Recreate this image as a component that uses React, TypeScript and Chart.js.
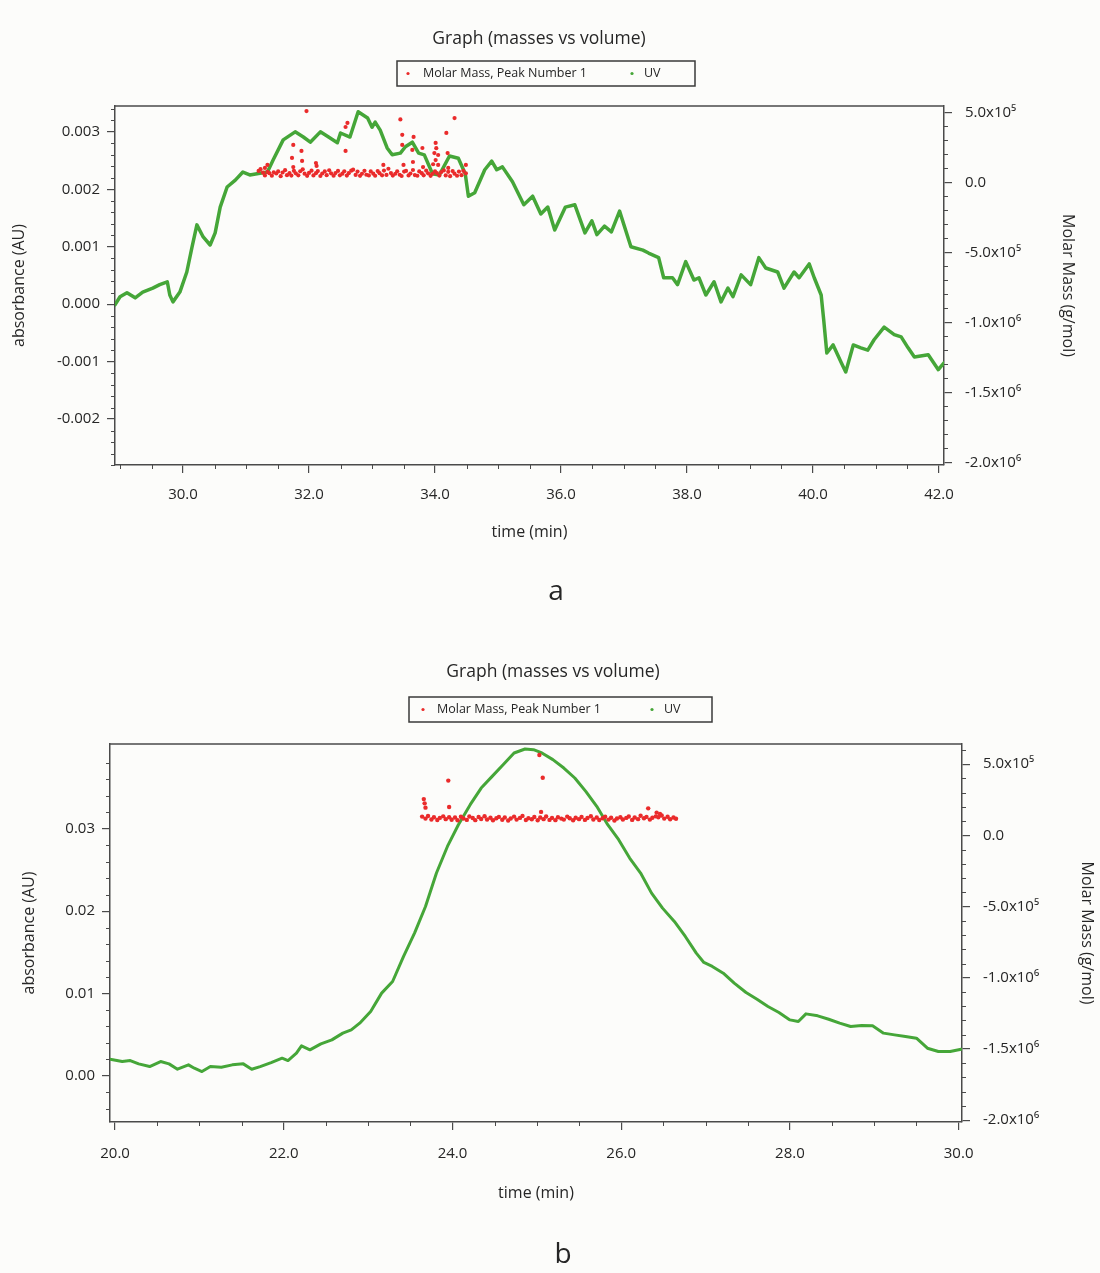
import React, { useEffect, useRef } from 'react';
import { Chart, registerables } from 'chart.js';

Chart.register(...registerables);

const FONT = '"Open Sans", "Noto Sans", sans-serif';
const TEXT = '#262626';
const AXIS = '#4a4a4a';
const GREEN = '#45a638';
const RED = '#ea2b2b';

// ---------- Chart a data ----------
const uvTimeA = [
  28.92, 29.0, 29.11, 29.24, 29.36, 29.52, 29.63, 29.75, 29.79, 29.84,
  29.95, 30.06, 30.14, 30.22, 30.32, 30.43, 30.51, 30.59, 30.7, 30.83,
  30.95, 31.06, 31.22, 31.34, 31.43, 31.59, 31.78, 31.91, 32.02, 32.18,
  32.31, 32.45, 32.5, 32.65, 32.78, 32.93, 33.0, 33.05, 33.13, 33.24,
  33.32, 33.45, 33.53, 33.64, 33.74, 33.83, 33.96, 34.07, 34.23, 34.37,
  34.48, 34.53, 34.63, 34.79, 34.9, 34.98, 35.07, 35.23, 35.41, 35.55,
  35.68, 35.79, 35.9, 36.07, 36.22, 36.38, 36.49, 36.57, 36.69, 36.8,
  36.93, 37.11, 37.3, 37.39, 37.55, 37.63, 37.77, 37.85, 37.98, 38.11,
  38.19, 38.3, 38.43, 38.54, 38.65, 38.73, 38.86, 39.01, 39.14, 39.25,
  39.44, 39.54, 39.7, 39.78, 39.94, 40.02, 40.13, 40.17, 40.22, 40.32,
  40.45, 40.52, 40.64, 40.76, 40.87, 40.97, 41.13, 41.29, 41.4, 41.51,
  41.61, 41.83, 41.99, 42.08,
];
const uvValueA = [
  -0.00001, 0.00013, 0.0002, 0.00011, 0.00021, 0.00028, 0.00034, 0.00039, 0.00016, 0.00004,
  0.00021, 0.00056, 0.00098, 0.00138, 0.00117, 0.00103, 0.00124, 0.00169, 0.00204, 0.00216,
  0.0023, 0.00225, 0.00228, 0.0023, 0.00251, 0.00286, 0.003, 0.00291, 0.00282, 0.003,
  0.00291, 0.00281, 0.00298, 0.00291, 0.00335, 0.00324, 0.00308, 0.00317, 0.00303, 0.00272,
  0.0026, 0.00263, 0.00274, 0.00282, 0.00263, 0.0026, 0.00227, 0.00225, 0.00258, 0.00254,
  0.00227, 0.00188, 0.00194, 0.00234, 0.00249, 0.00234, 0.00239, 0.00213, 0.00173, 0.00188,
  0.00157, 0.00169, 0.00129, 0.00169, 0.00173, 0.00124, 0.00145, 0.00121, 0.00136, 0.00126,
  0.00162, 0.001, 0.00094, 0.00089, 0.00081, 0.00046, 0.00046, 0.00034, 0.00074, 0.00042,
  0.00046, 0.00016, 0.00039, 0.00004, 0.00028, 0.00013, 0.00051, 0.00034, 0.00081, 0.00063,
  0.00056, 0.00028, 0.00056, 0.00046, 0.0007, 0.00046, 0.00016, -0.00027, -0.00085, -0.00071,
  -0.00102, -0.00118, -0.00071, -0.00076, -0.0008, -0.00062, -0.0004, -0.00053, -0.00057, -0.00076,
  -0.00092, -0.00088, -0.00114, -0.00102,
];
const massTimeA = [
  31.2, 31.23, 31.27, 31.3, 31.34, 31.37, 31.41, 31.44, 31.48, 31.51,
  31.55, 31.58, 31.62, 31.65, 31.69, 31.72, 31.76, 31.79, 31.83, 31.86,
  31.9, 31.93, 31.97, 32.0, 32.04, 32.07, 32.11, 32.14, 32.18, 32.21,
  32.25, 32.28, 32.32, 32.35, 32.39, 32.42, 32.46, 32.49, 32.53, 32.56,
  32.6, 32.63, 32.67, 32.7, 32.74, 32.77, 32.81, 32.84, 32.88, 32.91,
  32.95, 32.98, 33.02, 33.05, 33.09, 33.12, 33.16, 33.19, 33.23, 33.26,
  33.3, 33.33, 33.37, 33.4, 33.44, 33.47, 33.51, 33.54, 33.58, 33.61,
  33.65, 33.68, 33.72, 33.75, 33.79, 33.82, 33.86, 33.89, 33.93, 33.96,
  34.0, 34.03, 34.07, 34.1, 34.14, 34.17, 34.21, 34.24, 34.28, 34.31,
  34.35, 34.38, 34.42, 34.45, 34.49,
];
const massValueA = [
  82000, 95000, 70000, 50000, 75000, 66000, 48000, 72000, 64000, 79000,
  45000, 71000, 88000, 52000, 67000, 49000, 83000, 65000, 51000, 80000,
  94000, 63000, 47000, 68000, 84000, 50000, 66000, 81000, 46000, 64000,
  79000, 52000, 87000, 65000, 48000, 67000, 82000, 51000, 63000, 80000,
  49000, 66000, 84000, 91000, 54000, 78000, 47000, 62000, 83000, 55000,
  50000, 79000, 63000, 48000, 81000, 66000, 51000, 85000, 54000, 98000,
  67000, 49000, 62000, 80000, 55000, 46000, 78000, 82000, 50000, 64000,
  89000, 53000, 48000, 79000, 66000, 51000, 84000, 65000, 47000, 62000,
  80000, 67000, 49000, 74000, 86000, 50000, 76000, 45000, 81000, 63000,
  48000, 78000, 52000, 83000, 65000,
];
const massOutlierTimeA = [
  31.96, 32.61, 32.58, 33.45, 34.31, 34.18, 33.48, 33.66, 31.75, 31.88,
  31.73, 31.89, 31.75, 32.11, 32.12, 32.58, 33.48, 33.5, 33.64, 33.65,
  33.8, 33.81, 34.01, 33.99, 34.05, 34.01, 34.2, 34.05, 34.21, 34.49,
  33.18, 31.34, 31.3, 34.02, 33.97,
];
const massOutlierValueA = [
  510000, 425000, 396000, 450000, 460000, 354000, 340000, 325000, 268000, 225000,
  175000, 154000, 110000, 139000, 118000, 225000, 268000, 125000, 232000, 146000,
  246000, 110000, 282000, 210000, 196000, 160000, 210000, 125000, 104000, 125000,
  125000, 125000, 104000, 245000, 130000,
];
const xTicksA = [30, 32, 34, 36, 38, 40, 42];
const yTicksA = [-0.002, -0.001, 0, 0.001, 0.002, 0.003];
const massTicksA = [-2000000, -1500000, -1000000, -500000, 0, 500000];

// ---------- Chart b data ----------
const uvTimeB = [
  19.94, 20.085, 20.18, 20.28, 20.41, 20.54, 20.64, 20.74, 20.87, 20.94,
  21.03, 21.13, 21.26, 21.39, 21.52, 21.62, 21.72, 21.85, 21.98, 22.05,
  22.15, 22.21, 22.31, 22.44, 22.57, 22.7, 22.8, 22.9, 23.03, 23.16,
  23.29, 23.42, 23.55, 23.68, 23.81, 23.94, 24.07, 24.21, 24.34, 24.47,
  24.6, 24.73, 24.86, 24.96, 25.06, 25.19, 25.32, 25.45, 25.58, 25.71,
  25.84, 25.97, 26.1, 26.23, 26.36, 26.49, 26.63, 26.76, 26.89, 26.98,
  27.08, 27.21, 27.34, 27.48, 27.61, 27.74, 27.87, 28.0, 28.1, 28.19,
  28.33, 28.46, 28.59, 28.72, 28.85, 28.98, 29.11, 29.24, 29.37, 29.5,
  29.63, 29.76, 29.9, 30.03,
];
const uvValueB = [
  0.00203, 0.00174, 0.00186, 0.00146, 0.00113, 0.00174, 0.00146, 0.00081, 0.00134, 0.00093,
  0.00053, 0.00113, 0.00105, 0.00134, 0.00146, 0.00081, 0.00113, 0.00162, 0.00215, 0.00186,
  0.00276, 0.00365, 0.00316, 0.00389, 0.00437, 0.00519, 0.00559, 0.0064, 0.00782, 0.01005,
  0.01146, 0.0145, 0.01734, 0.02057, 0.02463, 0.02786, 0.0305, 0.03293, 0.03495, 0.03637,
  0.03779, 0.03921, 0.03969, 0.03961, 0.03921, 0.0384, 0.03738, 0.03617, 0.03455, 0.03273,
  0.0305, 0.02868, 0.02645, 0.02463, 0.02219, 0.02037, 0.01875, 0.01693, 0.0149, 0.01377,
  0.01329, 0.01247, 0.01126, 0.01013, 0.00931, 0.00843, 0.0077, 0.0068, 0.0066, 0.00753,
  0.00729, 0.00688, 0.0064, 0.006, 0.00612, 0.00608, 0.00519, 0.00498, 0.00478, 0.00458,
  0.00336, 0.00296, 0.00296, 0.00324,
];
const massTimeB = [
  23.64, 23.68, 23.71, 23.75, 23.78, 23.82, 23.85, 23.89, 23.92, 23.96,
  23.99, 24.03, 24.06, 24.1, 24.13, 24.17, 24.2, 24.24, 24.27, 24.31,
  24.34, 24.38, 24.41, 24.45, 24.48, 24.52, 24.55, 24.59, 24.62, 24.66,
  24.69, 24.73, 24.76, 24.8, 24.83, 24.87, 24.9, 24.94, 24.97, 25.01,
  25.04, 25.08, 25.11, 25.15, 25.18, 25.22, 25.25, 25.29, 25.32, 25.36,
  25.39, 25.43, 25.46, 25.5, 25.53, 25.57, 25.6, 25.64, 25.67, 25.71,
  25.74, 25.78, 25.81, 25.85, 25.88, 25.92, 25.95, 25.99, 26.02, 26.06,
  26.09, 26.13, 26.16, 26.2, 26.23, 26.27, 26.3, 26.34, 26.37, 26.41,
  26.44, 26.48, 26.51, 26.55, 26.58, 26.62, 26.65,
];
const massValueB = [
  132000, 118000, 136000, 112000, 127000, 108000, 123000, 134000, 114000, 128000,
  110000, 126000, 106000, 131000, 119000, 109000, 133000, 122000, 107000, 129000,
  115000, 135000, 112000, 124000, 106000, 121000, 130000, 110000, 126000, 105000,
  119000, 132000, 111000, 123000, 137000, 108000, 121000, 113000, 129000, 106000,
  126000, 114000, 133000, 109000, 123000, 107000, 128000, 118000, 111000, 132000,
  121000, 106000, 124000, 114000, 130000, 109000, 122000, 135000, 112000, 126000,
  108000, 121000, 131000, 111000, 124000, 105000, 119000, 128000, 112000, 123000,
  133000, 109000, 126000, 114000, 138000, 120000, 130000, 111000, 124000, 134000,
  127000, 140000, 118000, 131000, 113000, 126000, 117000,
];
const massOutlierTimeB = [23.66, 23.67, 23.68, 23.95, 23.96, 25.03, 25.07, 25.05, 26.32, 26.42, 26.46];
const massOutlierValueB = [255000, 225000, 195000, 385000, 200000, 565000, 405000, 165000, 190000, 160000, 150000];
const xTicksB = [20, 22, 24, 26, 28, 30];
const yTicksB = [0, 0.01, 0.02, 0.03];
const massTicksB = [-2000000, -1500000, -1000000, -500000, 0, 500000];

const TITLE = 'Graph (masses vs volume)';
const MASS_LABEL = 'Molar Mass, Peak Number 1';
const UV_LABEL = 'UV';

// ---------- helpers ----------
const SUP = '⁰¹²³⁴⁵⁶⁷⁸⁹';
const sup = (n: number) => String(n).split('').map((c) => SUP[+c]).join('');
function massLabel(v: number) {
  if (Math.abs(v) < 1) return '0.0';
  const e = Math.floor(Math.log10(Math.abs(v)) + 1e-9);
  const m = v / Math.pow(10, e);
  return m.toFixed(1) + 'x10' + sup(e);
}
const pts = (xs: number[], ys: number[]) => xs.map((x, i) => ({ x, y: ys[i] }));

const decorPlugin = {
  id: 'decor',
  afterDraw(chart: any, _args: any, o: any) {
    const ctx = chart.ctx as CanvasRenderingContext2D;
    const ca = chart.chartArea;
    ctx.save();
    // top frame line
    ctx.strokeStyle = AXIS;
    ctx.lineWidth = 1.5;
    ctx.beginPath();
    ctx.moveTo(ca.left, ca.top);
    ctx.lineTo(ca.right, ca.top);
    ctx.stroke();
    // minor ticks
    for (const m of o.minor) {
      const scale = chart.scales[m.id];
      const k0 = Math.ceil(scale.min / m.step - 1e-6);
      const k1 = Math.floor(scale.max / m.step + 1e-6);
      ctx.lineWidth = 1;
      ctx.beginPath();
      for (let k = k0; k <= k1; k++) {
        if (k % m.every === 0) continue;
        const p = Math.round(scale.getPixelForValue(k * m.step)) + 0.5;
        if (m.id === 'x') {
          ctx.moveTo(p, ca.bottom);
          ctx.lineTo(p, ca.bottom + 4);
        } else if (m.id === 'y') {
          ctx.moveTo(ca.left, p);
          ctx.lineTo(ca.left - 4, p);
        } else {
          ctx.moveTo(ca.right, p);
          ctx.lineTo(ca.right + 4, p);
        }
      }
      ctx.stroke();
    }
    // title
    ctx.fillStyle = TEXT;
    ctx.textAlign = 'center';
    ctx.textBaseline = 'middle';
    ctx.font = `17.5px ${FONT}`;
    ctx.fillText(TITLE, o.titleX, o.titleY);
    // legend box
    const L = o.legend;
    ctx.strokeStyle = '#3a3a3a';
    ctx.lineWidth = 1.5;
    ctx.strokeRect(L.x, L.y, L.w, L.h);
    const cy = L.y + L.h / 2;
    const ds = chart.data.datasets;
    ctx.fillStyle = RED;
    ctx.beginPath();
    ctx.arc(L.redX, cy, 1.6, 0, Math.PI * 2);
    ctx.fill();
    ctx.fillStyle = GREEN;
    ctx.beginPath();
    ctx.arc(L.greenX, cy, 1.6, 0, Math.PI * 2);
    ctx.fill();
    ctx.fillStyle = TEXT;
    ctx.textAlign = 'left';
    ctx.font = `12.5px ${FONT}`;
    ctx.fillText(ds[0].label, L.textX, cy);
    ctx.fillText(ds[1].label, L.uvX, cy);
    // caption
    ctx.textAlign = 'center';
    ctx.font = `28px ${FONT}`;
    ctx.fillText(o.caption, o.capX, o.capY);
    ctx.restore();
  },
};

function makeConfig(p: any): any {
  const grid = {
    display: true,
    drawOnChartArea: false,
    drawTicks: true,
    tickLength: 8,
    color: AXIS,
    lineWidth: 1.2,
  };
  const border = { display: true, color: AXIS, width: 1.5 };
  const tickFont = { family: FONT, size: 15 };
  const titleFont = { family: FONT, size: 16 };
  return {
    type: 'scatter',
    data: {
      datasets: [
        {
          label: MASS_LABEL,
          data: pts(p.massT, p.massV).concat(pts(p.outT, p.outV)),
          yAxisID: 'y2',
          showLine: false,
          pointRadius: p.dotR,
          pointBorderWidth: 0,
          pointBackgroundColor: RED,
          backgroundColor: RED,
          borderColor: RED,
        },
        {
          label: UV_LABEL,
          data: pts(p.uvT, p.uvV),
          yAxisID: 'y',
          showLine: true,
          pointRadius: 0,
          borderWidth: p.lineW,
          borderColor: GREEN,
          backgroundColor: GREEN,
          tension: 0,
          borderJoinStyle: 'round',
          borderCapStyle: 'round',
        },
      ],
    },
    options: {
      responsive: false,
      animation: false,
      devicePixelRatio: 1,
      layout: { padding: { top: p.padTop, left: 0, right: 0, bottom: 0 } },
      plugins: {
        legend: { display: false },
        title: { display: false },
        tooltip: { enabled: false },
        decor: p.decor,
      },
      scales: {
        x: {
          type: 'linear',
          position: 'bottom',
          min: p.xMin,
          max: p.xMax,
          afterBuildTicks: (s: any) => {
            s.ticks = p.xTicks.map((v: number) => ({ value: v }));
          },
          afterFit: (s: any) => {
            s.height = p.xH;
          },
          ticks: {
            callback: (v: any) => Number(v).toFixed(1),
            font: tickFont,
            color: TEXT,
            padding: p.xTickPad,
            maxRotation: 0,
            autoSkip: false,
          },
          grid,
          border,
          title: {
            display: true,
            text: 'time (min)',
            font: titleFont,
            color: TEXT,
            padding: { top: 0, bottom: p.xTitlePad },
          },
        },
        y: {
          type: 'linear',
          position: 'left',
          min: p.yMin,
          max: p.yMax,
          afterBuildTicks: (s: any) => {
            s.ticks = p.yTicks.map((v: number) => ({ value: v }));
          },
          afterFit: (s: any) => {
            s.width = p.yW;
          },
          ticks: {
            callback: (v: any) => Number(v).toFixed(p.yDec),
            font: tickFont,
            color: TEXT,
            padding: 7,
            autoSkip: false,
          },
          grid,
          border,
          title: {
            display: true,
            text: 'absorbance (AU)',
            font: titleFont,
            color: TEXT,
            padding: { top: p.yTitlePad, bottom: 0 },
          },
        },
        y2: {
          type: 'linear',
          position: 'right',
          min: p.mMin,
          max: p.mMax,
          afterBuildTicks: (s: any) => {
            s.ticks = p.mTicks.map((v: number) => ({ value: v }));
          },
          afterFit: (s: any) => {
            s.width = p.y2W;
          },
          ticks: {
            callback: (v: any) => massLabel(Number(v)),
            font: tickFont,
            color: TEXT,
            padding: 13,
            autoSkip: false,
          },
          grid,
          border,
          title: {
            display: true,
            text: 'Molar Mass (g/mol)',
            font: titleFont,
            color: TEXT,
            padding: { top: p.y2TitlePad, bottom: 0 },
          },
        },
      },
    },
    plugins: [decorPlugin],
  };
}

const configA = () =>
  makeConfig({
    uvT: uvTimeA,
    uvV: uvValueA,
    massT: massTimeA,
    massV: massValueA,
    outT: massOutlierTimeA,
    outV: massOutlierValueA,
    xTicks: xTicksA,
    yTicks: yTicksA,
    mTicks: massTicksA,
    lineW: 3.5,
    dotR: 2.1,
    padTop: 106,
    xMin: 28.92,
    xMax: 42.08,
    yMin: -0.0028,
    yMax: 0.00345,
    yDec: 3,
    mMin: -2018000,
    mMax: 546000,
    xH: 620 - 465,
    yW: 115,
    y2W: 1100 - 944,
    xTickPad: 13,
    xTitlePad: 78,
    yTitlePad: 10,
    y2TitlePad: 23,
    decor: {
      titleX: 539,
      titleY: 39,
      legend: { x: 397, y: 61, w: 298, h: 25, redX: 408, textX: 423, greenX: 632, uvX: 644 },
      caption: 'a',
      capX: 556,
      capY: 592,
      minor: [
        { id: 'x', step: 0.5, every: 4 },
        { id: 'y', step: 0.0002, every: 5 },
        { id: 'y2', step: 100000, every: 5 },
      ],
    },
  });

const configB = () =>
  makeConfig({
    uvT: uvTimeB,
    uvV: uvValueB,
    massT: massTimeB,
    massV: massValueB,
    outT: massOutlierTimeB,
    outV: massOutlierValueB,
    xTicks: xTicksB,
    yTicks: yTicksB,
    mTicks: massTicksB,
    lineW: 3,
    dotR: 2.2,
    padTop: 124,
    xMin: 19.94,
    xMax: 30.04,
    yMin: -0.0056,
    yMax: 0.0403,
    yDec: 2,
    mMin: -2013000,
    mMax: 642000,
    xH: 653 - 502,
    yW: 110,
    y2W: 1100 - 962,
    xTickPad: 15,
    xTitlePad: 70,
    yTitlePad: 20,
    y2TitlePad: 4,
    decor: {
      titleX: 553,
      titleY: 52,
      legend: { x: 409, y: 77, w: 303, h: 25, redX: 423, textX: 437, greenX: 652, uvX: 664 },
      caption: 'b',
      capX: 563,
      capY: 635,
      minor: [
        { id: 'x', step: 0.5, every: 4 },
        { id: 'y', step: 0.002, every: 5 },
        { id: 'y2', step: 100000, every: 5 },
      ],
    },
  });

function ChartPanel({ top, height, make }: { top: number; height: number; make: () => any }) {
  const ref = useRef<HTMLCanvasElement>(null);
  useEffect(() => {
    const chart = new Chart(ref.current as HTMLCanvasElement, make());
    return () => chart.destroy();
  }, []);
  return (
    <canvas
      ref={ref}
      width={1100}
      height={height}
      style={{ position: 'absolute', left: 0, top, width: 1100, height, display: 'block' }}
    />
  );
}

export default function App() {
  return (
    <div
      style={{
        position: 'absolute',
        left: 0,
        top: 0,
        width: 1100,
        height: 1273,
        background: '#fcfcfa',
        overflow: 'hidden',
      }}
    >
      <ChartPanel top={0} height={620} make={configA} />
      <ChartPanel top={620} height={653} make={configB} />
    </div>
  );
}
